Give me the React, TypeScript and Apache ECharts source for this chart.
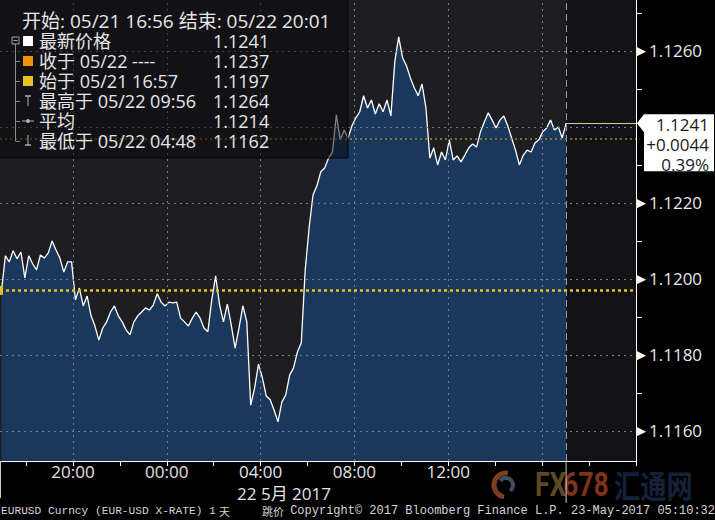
import React, { useEffect, useRef } from "react";
import * as echarts from "echarts";

// ---- data (hours counted from 05/21 00:00) ----
const startHour = 16.95; // 05/21 16:57
const endHour = 41.03; // last tick 05/22 ~17:02
const xMin = 16.887;
const xMax = 44.01;
const yMin = 1.11521;
const yMax = 1.12734;

const prices = [
  1.11968, 1.12061, 1.12045, 1.12074, 1.12053, 1.12071, 1.12003, 1.12061, 1.1204, 1.12024,
  1.12063, 1.12055, 1.12068, 1.121, 1.12076, 1.12055, 1.12018, 1.12045, 1.12045, 1.11945,
  1.11976, 1.11929, 1.11955, 1.11903, 1.11876, 1.11839, 1.11871, 1.11887, 1.11913, 1.11929,
  1.11903, 1.11887, 1.11866, 1.11853, 1.11887, 1.11903, 1.11913, 1.11924, 1.11918, 1.11932,
  1.11961, 1.11939, 1.11929, 1.11939, 1.11937, 1.11939, 1.11897, 1.11887, 1.11876, 1.11897,
  1.11913, 1.11897, 1.11871, 1.11861, 1.11945, 1.12008, 1.11932, 1.11887, 1.11934, 1.11879,
  1.11818, 1.11871, 1.11929, 1.11887, 1.11668, 1.11713, 1.11776, 1.1174, 1.11692, 1.11682,
  1.11655, 1.11624, 1.11676, 1.11695, 1.11747, 1.11766, 1.11808, 1.11832, 1.12024, 1.12134,
  1.12221, 1.12245, 1.12282, 1.12292, 1.12318, 1.12334, 1.12432, 1.12366, 1.12392, 1.12371,
  1.12403, 1.12424, 1.1244, 1.12482, 1.1245, 1.12471, 1.12434, 1.12461, 1.1244, 1.12471,
  1.12429, 1.12571, 1.12637, 1.12582, 1.12561, 1.12529, 1.12503, 1.12482, 1.12513, 1.1245,
  1.12318, 1.12345, 1.123, 1.12334, 1.12313, 1.12366, 1.12313, 1.12324, 1.12308, 1.12326,
  1.12345, 1.12355, 1.12347, 1.12387, 1.12413, 1.12437, 1.12418, 1.12397, 1.12418, 1.12429,
  1.12403, 1.12371, 1.12339, 1.123, 1.12326, 1.12339, 1.12334, 1.12358, 1.12366, 1.12387,
  1.12397, 1.12418, 1.12392, 1.124, 1.12371, 1.1241,
];

const yLabelValues = [1.116, 1.118, 1.12, 1.122, 1.126];
const yTickValues = [1.115, 1.117, 1.119, 1.121, 1.123, 1.125, 1.127];
const yGridValues = [1.116, 1.118, 1.12, 1.122, 1.124, 1.126];
const xLabelHours = [20, 24, 28, 32, 36];
const xGridHours = [20, 24, 28, 32, 36, 40];
const xTickHours = [18, 20, 22, 24, 26, 28, 30, 32, 34, 36, 38, 40, 42, 44];

const lastPrice = 1.1241;
const closePrice = 1.1237;
const openPrice = 1.1197;
const changeText = "+0.0044";
const changePctText = "0.39%";

const titleText = "开始: 05/21 16:56 结束: 05/22 20:01";
const legendLabels = ["最新价格", "收于 05/22 ----", "始于 05/21 16:57", "最高于 05/22 09:56", "平均", "最低于 05/22 04:48"];
const legendValues = ["1.1241", "1.1237", "1.1197", "1.1264", "1.1214", "1.1162"];
const dateLabel = "22 5月 2017";
const footerLeft = "EURUSD Curncy (EUR-USD X-RATE) 1";
const footerDay = "天";
const footerTick = "跳价";
const footerRight = "Copyright\u00a9 2017 Bloomberg Finance L.P. 23-May-2017 05:10:32";

const FONT = '"Open Sans", "Noto Sans CJK SC", sans-serif';

export default function App() {
  const ref = useRef<HTMLDivElement>(null);

  useEffect(() => {
    if (!ref.current) return;
    const chart = echarts.init(ref.current, null, { renderer: "svg" });
    const n = prices.length;
    const seriesData = prices.map((p, i) => [startHour + (i * (endHour - startHour)) / (n - 1), p]);

    const gridLineStyle = { color: "#7a7a84", type: [2, 4] as any, width: 1 };
    const lastLineStyle = { color: "#d8c890", type: "solid", width: 1 };

    const option: any = {
      animation: false,
      backgroundColor: "#000000",
      grid: {
        left: 0,
        top: 0,
        width: 636,
        height: 461,
        show: true,
        backgroundColor: "#1e1e22",
        borderWidth: 0,
      },
      xAxis: {
        type: "value",
        min: xMin,
        max: xMax,
        axisLine: { show: true, lineStyle: { color: "#ffffff", width: 1 } },
        axisTick: { show: true, customValues: xTickHours, length: 5, lineStyle: { color: "#ffffff" } },
        splitLine: { show: false },
        axisLabel: {
          customValues: xLabelHours,
          color: "#e4e4e4",
          fontSize: 17,
          fontFamily: FONT,
          margin: 2,
          formatter: (v: number) => {
            const h = Math.round(v) % 24;
            return (h < 10 ? "0" + h : "" + h) + ":00";
          },
        },
      },
      yAxis: {
        type: "value",
        position: "right",
        min: yMin,
        max: yMax,
        scale: true,
        axisLine: { show: true, lineStyle: { color: "#ffffff", width: 1 } },
        axisTick: { show: true, customValues: yTickValues, length: 6, lineStyle: { color: "#ffffff" } },
        splitLine: { show: false },
        axisLabel: {
          customValues: yLabelValues,
          margin: 0,
          formatter: (v: number) => "{t|▶}{v|" + v.toFixed(4) + "}",
          rich: {
            t: { fontSize: 13, color: "#f4f4f4", padding: [0, 3, 0, 0] },
            v: { fontSize: 17, color: "#e8e8e8", fontFamily: FONT },
          },
        },
      },
      series: [
        {
          type: "line",
          data: seriesData,
          showSymbol: false,
          symbol: "none",
          lineStyle: { color: "#ffffff", width: 1.3 },
          areaStyle: { color: "#1a385c", opacity: 1, origin: "start" },
          z: 2,
          markArea: {
            silent: true,
            itemStyle: { color: "#131317" },
            data: [[{ xAxis: endHour }, { xAxis: xMax }]],
          },
          markLine: {
            silent: true,
            precision: 6,
            symbol: ["none", "none"],
            label: { show: false },
            lineStyle: gridLineStyle,
            data: [
              ...yGridValues.map((v) => ({ yAxis: v, lineStyle: gridLineStyle })),
              ...xGridHours.map((h) => ({ xAxis: h, lineStyle: gridLineStyle })),
              { xAxis: endHour, lineStyle: { color: "#9a9aa2", type: [7, 4], width: 1 } },
              { yAxis: openPrice, lineStyle: { color: "#e2c420", type: [3, 3], width: 2.5 } },
              { yAxis: closePrice, lineStyle: { color: "#a8802e", type: [2, 3], width: 1.5 } },
              [
                { coord: [endHour, lastPrice], lineStyle: lastLineStyle },
                { coord: [xMax, lastPrice], lineStyle: lastLineStyle },
              ],
            ],
          },
          markPoint: {
            silent: true,
            symbol: "rect",
            symbolSize: [6, 9],
            label: { show: false },
            itemStyle: { color: "#e2c420" },
            data: [{ coord: [xMin, openPrice] }],
          },
        },
      ],
    };
    chart.setOption(option);

    const [xEnd, yLast] = chart.convertToPixel({ xAxisIndex: 0, yAxisIndex: 0 }, [endHour, lastPrice]);
    const [xRight, yBottom] = chart.convertToPixel({ xAxisIndex: 0, yAxisIndex: 0 }, [xMax, yMin]);

    const g: any[] = [];
    const textStyle = (text: string, x: number, y: number, extra: any = {}) => ({
      type: "text",
      z: 110,
      style: {
        text,
        x,
        y,
        fill: "#e6e6e6",
        font: '18px "Open Sans", "Noto Sans CJK SC", sans-serif',
        lineHeight: 18,
        textVerticalAlign: "middle",
        verticalAlign: "middle",
        ...extra,
      },
    });

    // legend box
    g.push({
      type: "rect",
      z: 100,
      shape: { x: -1, y: -1, width: 349, height: 159 },
      style: { fill: "rgba(6,6,10,0.5)", stroke: "#050507", lineWidth: 1 },
    });
    g.push(textStyle(titleText, 22, 21, { font: '19px "Open Sans", "Noto Sans CJK SC", sans-serif' }));
    const rowY = [41, 61, 81, 101, 121, 141];
    // tree line
    g.push({ type: "line", z: 110, shape: { x1: 15.5, y1: 42, x2: 15.5, y2: 141 }, style: { stroke: "#8a8a8a", lineWidth: 1 } });
    g.push({ type: "rect", z: 111, shape: { x: 12, y: 37, width: 7, height: 7 }, style: { fill: "#151518", stroke: "#a0a0a0", lineWidth: 1 } });
    g.push({ type: "line", z: 112, shape: { x1: 13.5, y1: 40.5, x2: 17.5, y2: 40.5 }, style: { stroke: "#a0a0a0", lineWidth: 1 } });
    rowY.forEach((y, i) => {
      if (i > 0) g.push({ type: "line", z: 110, shape: { x1: 15.5, y1: y + 0.5, x2: 20, y2: y + 0.5 }, style: { stroke: "#8a8a8a", lineWidth: 1 } });
      g.push(textStyle(legendLabels[i], 39, y));
      g.push(textStyle(legendValues[i], 213, y));
    });
    const sqColors = ["#ffffff", "#f0900c", "#e8c020"];
    sqColors.forEach((c, i) => {
      g.push({ type: "rect", z: 110, shape: { x: 23, y: rowY[i] - 5, width: 10, height: 10 }, style: { fill: c } });
    });
    const ic = "#b0b0b0";
    // high icon
    g.push({ type: "line", z: 110, shape: { x1: 28, y1: rowY[3] - 5, x2: 28, y2: rowY[3] + 5 }, style: { stroke: ic, lineWidth: 1 } });
    g.push({ type: "line", z: 110, shape: { x1: 25, y1: rowY[3] - 5, x2: 31, y2: rowY[3] - 5 }, style: { stroke: ic, lineWidth: 1.5 } });
    // avg icon
    g.push({ type: "line", z: 110, shape: { x1: 22, y1: rowY[4], x2: 34, y2: rowY[4] }, style: { stroke: ic, lineWidth: 1 } });
    g.push({ type: "circle", z: 111, shape: { cx: 28, cy: rowY[4], r: 2 }, style: { fill: ic } });
    // low icon
    g.push({ type: "line", z: 110, shape: { x1: 28, y1: rowY[5] - 6, x2: 28, y2: rowY[5] + 4 }, style: { stroke: ic, lineWidth: 1 } });
    g.push({ type: "line", z: 110, shape: { x1: 25, y1: rowY[5] + 4, x2: 31, y2: rowY[5] + 4 }, style: { stroke: ic, lineWidth: 1.5 } });

    // current value tag
    const tx = xRight + 1;
    g.push({
      type: "polygon",
      z: 100,
      shape: {
        points: [
          [tx, yLast],
          [tx + 7, yLast - 9],
          [tx + 77, yLast - 9],
          [tx + 77, yLast + 48],
          [tx + 7, yLast + 48],
          [tx + 7, yLast + 9],
        ],
      },
      style: { fill: "#ffffff" },
    });
    const tagFont = '17px "Open Sans", sans-serif';
    const tagExtra = { fill: "#1a1a1a", font: tagFont, textAlign: "right", align: "right", lineHeight: 19 };
    g.push(textStyle(lastPrice.toFixed(4), 709, yLast + 1, tagExtra));
    g.push(textStyle(changeText, 709, yLast + 21, tagExtra));
    g.push(textStyle(changePctText, 709, yLast + 41, tagExtra));

    // vertical marks below axis
    g.push({ type: "line", z: 100, shape: { x1: xEnd, y1: yBottom, x2: xEnd, y2: 503 }, style: { stroke: "#c8c8c8", lineWidth: 1 } });
    g.push({ type: "line", z: 100, shape: { x1: 0.5, y1: yBottom, x2: 0.5, y2: 498 }, style: { stroke: "#c8c8c8", lineWidth: 1 } });

    // date label
    g.push(textStyle(dateLabel, 284, 493, { font: '17px "Open Sans", "Noto Sans CJK SC", sans-serif', textAlign: "center", align: "center", fill: "#e4e4e4", lineHeight: 16 }));

    // watermark
    g.push({ type: "arc", z: 90, shape: { cx: 506, cy: 485, r: 12, startAngle: Math.PI * 0.55, endAngle: Math.PI * 1.55 }, style: { stroke: "#7a3e20", lineWidth: 5, fill: "none" } });
    g.push({ type: "arc", z: 90, shape: { cx: 506, cy: 485, r: 7, startAngle: Math.PI * 1.2, endAngle: Math.PI * 2.3 }, style: { stroke: "#434c5e", lineWidth: 4, fill: "none" } });
    const wm = (text: string, x: number, fill: string, font: string, scaleX: number) => ({
      type: "text",
      z: 90,
      x,
      y: 484,
      scaleX,
      style: { text, x: 0, y: 0, font, textVerticalAlign: "middle", verticalAlign: "middle", fill },
    });
    g.push(wm("FX", 535, "#5e4a22", 'bold 34px Roboto, sans-serif', 0.78));
    g.push(wm("678", 563, "#7e3219", 'bold 34px Roboto, sans-serif', 0.78));
    g.push(wm("汇通网", 614, "#15213a", 'bold 32px "Noto Sans CJK SC", sans-serif', 0.82));

    // footer
    const footFill = "#d4d4d4";
    g.push(textStyle(footerLeft, 1, 511, { font: '11.2px "Liberation Mono", monospace', fill: footFill, lineHeight: 12 }));
    g.push(textStyle(footerDay, 219, 511, { font: '11px "Noto Sans CJK SC", sans-serif', fill: footFill, lineHeight: 12 }));
    g.push(textStyle(footerTick, 262, 511, { font: '11px "Noto Sans CJK SC", sans-serif', fill: footFill, lineHeight: 12 }));
    g.push(textStyle(footerRight, 715, 511, { font: '12px "Liberation Mono", monospace', fill: footFill, textAlign: "right", align: "right", lineHeight: 12 }));

    chart.setOption({ graphic: g });

    return () => chart.dispose();
  }, []);

  return <div ref={ref} style={{ position: "fixed", left: 0, top: 0, width: 715, height: 520 }} />;
}
